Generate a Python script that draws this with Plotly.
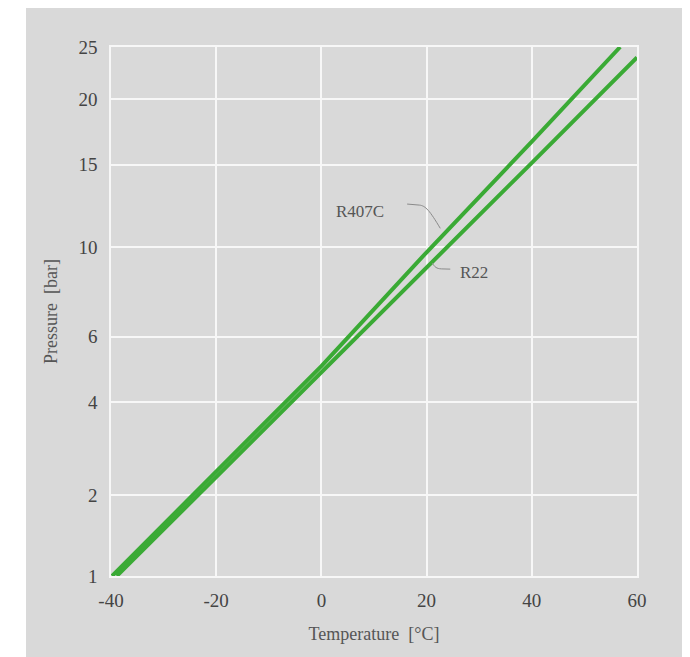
import numpy as np
import plotly.graph_objects as go

# ---- data ----
# y-axis: pressure ticks and the (R22 saturation-temperature-like) scale they sit on
PRESSURE_TICKS = [1, 2, 4, 6, 10, 15, 20, 25]
PRESSURE_SCALE = [-41.1, -25.4, -7.4, 5.2, 22.6, 38.5, 51.2, 61.3]
TEMP_TICKS = [-40, -20, 0, 20, 40, 60]

r407c_temp = [-39.8, -20, 0, 20, 40, 56.8]
r407c_pres = [1.0, 2.37, 5.0, 9.7, 16.6, 25.0]

r22_temp = [-38.9, -20, 0, 20, 40, 60]
r22_pres = [1.0, 2.28, 4.81, 8.89, 15.13, 23.9]

BG = "#d9d9d9"
GREEN = "#3aaa35"
FONT = "Liberation Serif"


def to_axis(p):
    """Pressure -> position on the chart's pressure scale."""
    return np.interp(np.log(np.asarray(p, float)), np.log(PRESSURE_TICKS), PRESSURE_SCALE)


fig = go.Figure()
fig.add_trace(go.Scatter(x=r407c_temp, y=to_axis(r407c_pres), mode="lines",
                         name="R407C", line=dict(color=GREEN, width=4)))
fig.add_trace(go.Scatter(x=r22_temp, y=to_axis(r22_pres), mode="lines",
                         name="R22", line=dict(color=GREEN, width=4)))

# grey panel behind everything (page has an 8px body margin)
fig.add_shape(type="rect", xref="paper", yref="paper", layer="below",
              x0=(18 - 103) / 526, x1=1.3, y0=-0.3, y1=1.3,
              fillcolor=BG, line=dict(width=0))

# leader lines for labels
fig.add_shape(type="path", xref="x", yref="y", layer="above",
              path="M 16.3,30.9 L 18.6,30.7 C 19.8,30.6 20.6,29.6 22.6,26.2",
              line=dict(color="#8a8a8a", width=1))
fig.add_shape(type="path", xref="x", yref="y", layer="above",
              path="M 21.1,19.5 C 21.5,18.7 21.9,18.4 22.8,18.35 L 24.5,18.3",
              line=dict(color="#8a8a8a", width=1))

fig.add_annotation(x=7.3, y=29.4, xref="x", yref="y", text="R407C", showarrow=False,
                   font=dict(family=FONT, size=17, color="#555555"))
fig.add_annotation(x=29.0, y=17.6, xref="x", yref="y", text="R22", showarrow=False,
                   font=dict(family=FONT, size=17, color="#555555"))

axis_common = dict(showgrid=True, gridcolor="#f7f7f7", gridwidth=1.5,
                   showline=True, linecolor="#f7f7f7", linewidth=1.5, mirror=True,
                   zeroline=False, ticks="",
                   tickfont=dict(family=FONT, size=19, color="#444444"))

fig.update_xaxes(range=[-40, 60], tickvals=TEMP_TICKS, ticktext=[str(t) for t in TEMP_TICKS],
                 ticklabelstandoff=6,
                 title=dict(text="Temperature  [°C]", standoff=18,
                            font=dict(family=FONT, size=18, color="#555555")),
                 **axis_common)
fig.update_yaxes(range=[PRESSURE_SCALE[0], PRESSURE_SCALE[-1]], tickvals=PRESSURE_SCALE,
                 ticktext=[str(p) for p in PRESSURE_TICKS], ticklabelstandoff=8,
                 title=dict(text="Pressure  [bar]", standoff=16,
                            font=dict(family=FONT, size=18, color="#555555")),
                 **axis_common)

fig.update_layout(width=690, height=657, autosize=False,
                  margin=dict(l=103, r=61, t=39, b=89, autoexpand=False),
                  paper_bgcolor="white", plot_bgcolor=BG, showlegend=False)

fig.write_html("out.html")
